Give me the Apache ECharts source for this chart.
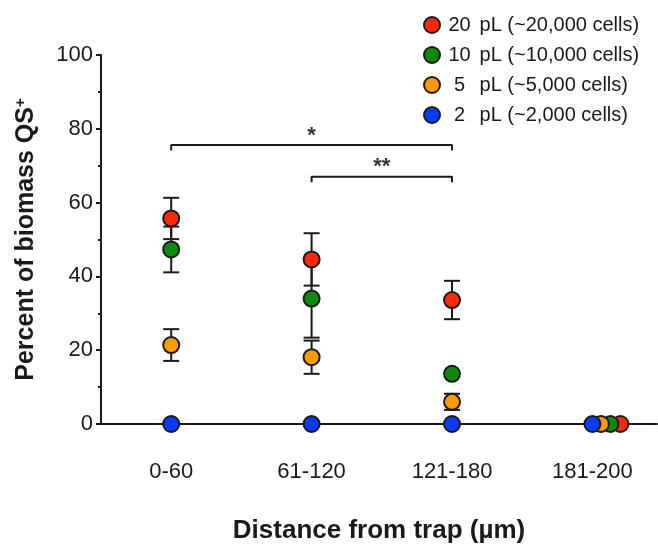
<!DOCTYPE html>
<html>
<head>
<meta charset="utf-8">
<script src="https://cdn.jsdelivr.net/npm/echarts@6/dist/echarts.min.js"></script>
<style>html,body{margin:0;padding:0;background:#fff}#c{width:658px;height:544px}</style>
</head>
<body>
<div id="c"></div>
<script>
// ---- data ----
const categories = ['0-60', '61-120', '121-180', '181-200'];
const seriesNames = ['20 pL (~20,000 cells)', '10 pL (~10,000 cells)', '5 pL (~5,000 cells)', '2 pL (~2,000 cells)'];
const mean20 = [55.7, 44.6, 33.6, 0];
const err20  = [5.6, 7.1, 5.2, 0];
const mean10 = [47.3, 34.0, 13.6, 0];
const err10  = [6.2, 10.6, 0, 0];
const mean5  = [21.4, 18.1, 6.0, 0];
const err5   = [4.3, 4.5, 2.2, 0];
const mean2  = [0, 0, 0, 0];
const err2   = [0, 0, 0, 0];
const yTickValues = [0, 20, 40, 60, 80, 100];
const bracketStarts = [0, 1];
const bracketEnds = [2, 2];
const bracketLevels = [75.6, 67.0];
const bracketTexts = ['*', '**'];

// ---- styling ----
const FONT = "'Liberation Sans', Arial, Helvetica, sans-serif";
const INK = '#1a1a1a';
const colors = ['#ff2a08', '#0c8a0c', '#ff9a00', '#0a3cff'];
const lastGroupShift = [28, 18, 8.5, 0]; // pixel offsets of overlapping markers in the last group
const means = [mean20, mean10, mean5, mean2];
const errs = [err20, err10, err5, err2];

function errRender(params, api) {
  const x = api.value(0), m = api.value(1), e = api.value(2);
  if (!e) return null;
  const t = api.coord([x, m + e]);
  const b = api.coord([x, m - e]);
  const hw = 8;
  const st = { stroke: INK, lineWidth: 2 };
  return {
    type: 'group',
    children: [
      { type: 'line', shape: { x1: t[0], y1: t[1], x2: b[0], y2: b[1] }, style: st },
      { type: 'line', shape: { x1: t[0] - hw, y1: t[1], x2: t[0] + hw, y2: t[1] }, style: st },
      { type: 'line', shape: { x1: b[0] - hw, y1: b[1], x2: b[0] + hw, y2: b[1] }, style: st }
    ]
  };
}

const series = [];
seriesNames.forEach((name, s) => {
  series.push({
    type: 'custom',
    name: 'err' + s,
    renderItem: errRender,
    encode: { x: 0, y: 1 },
    data: categories.map((c, i) => [i, means[s][i], errs[s][i]]),
    silent: true,
    z: 2
  });
  series.push({
    type: 'scatter',
    name: name,
    symbol: 'circle',
    symbolSize: 16,
    itemStyle: { color: colors[s], borderColor: INK, borderWidth: 2, opacity: 1 },
    data: categories.map((c, i) => ({
      value: [i, means[s][i]],
      symbolOffset: [i === categories.length - 1 ? lastGroupShift[s] : 0, 0]
    })),
    silent: true,
    z: 2
  });
});

bracketStarts.forEach((a, k) => {
  const b = bracketEnds[k], y = bracketLevels[k];
  series.push({
    type: 'line',
    data: [[a, y - 1.5], [a, y], [b, y], [b, y - 1.5]],
    symbol: 'none',
    lineStyle: { color: INK, width: 2 },
    silent: true,
    z: 1
  });
  series.push({
    type: 'scatter',
    data: [[(a + b) / 2, y + 2.6]],
    symbolSize: 0,
    label: { show: true, formatter: bracketTexts[k], position: 'inside', fontSize: 22, fontWeight: 'bold', color: '#000', fontFamily: FONT },
    silent: true,
    z: 1
  });
});

const chart = echarts.init(document.getElementById('c'), null, { renderer: 'canvas' });
chart.setOption({
  animation: false,
  backgroundColor: '#fff',
  textStyle: { fontFamily: FONT },
  grid: { left: 101, top: 55, width: 556, bottom: 120, containLabel: false, outerBoundsMode: 'none' },
  legend: {
    data: seriesNames,
    orient: 'vertical',
    left: 418,
    top: 10,
    itemWidth: 16,
    itemHeight: 16,
    itemGap: 10,
    icon: 'circle',
    selectedMode: false,
    formatter: function (n) {
      const i = n.indexOf(' ');
      return '{n|' + n.slice(0, i) + '}{r|' + n.slice(i) + '}';
    },
    textStyle: {
      fontSize: 20, color: INK, fontFamily: FONT, lineHeight: 20,
      rich: {
        n: { width: 29, align: 'right', fontSize: 20, color: INK, fontFamily: FONT, lineHeight: 20 },
        r: { fontSize: 20, color: INK, fontFamily: FONT, lineHeight: 20 }
      }
    }
  },
  xAxis: {
    type: 'value',
    min: -0.5,
    max: 3.46,
    interval: 0.5,
    splitLine: { show: false },
    axisTick: { show: false },
    axisLine: { show: true, onZero: true, lineStyle: { color: INK, width: 2 } },
    axisLabel: {
      fontSize: 22, color: INK, fontFamily: FONT, margin: 37,
      showMinLabel: true, showMaxLabel: true,
      formatter: function (v) {
        const r = Math.round(v);
        if (Math.abs(v - r) < 1e-6 && r >= 0 && r < categories.length) return categories[r];
        return '';
      }
    },
    name: 'Distance from trap (µm)',
    nameLocation: 'middle',
    nameGap: 94,
    nameTextStyle: { fontSize: 26, fontWeight: 'bold', color: INK, fontFamily: FONT, verticalAlign: 'top' }
  },
  yAxis: {
    type: 'value',
    min: yTickValues[0],
    max: yTickValues[yTickValues.length - 1],
    interval: yTickValues[1] - yTickValues[0],
    splitLine: { show: false },
    axisLine: { show: true, onZero: false, lineStyle: { color: INK, width: 2 } },
    axisTick: { show: true, length: 5, lineStyle: { color: INK, width: 2 } },
    minorTick: { show: true, splitNumber: 2, length: 3, lineStyle: { color: INK, width: 2 } },
    axisLabel: { fontSize: 22, color: INK, fontFamily: FONT, margin: 8 },
    name: 'Percent of biomass QS{sup|+}',
    nameLocation: 'middle',
    nameRotate: 90,
    nameGap: 61,
    nameTextStyle: {
      fontSize: 25, fontWeight: 'bold', color: INK, fontFamily: FONT,
      rich: {
        sup: { fontSize: 15, fontWeight: 'bold', color: INK, fontFamily: FONT, padding: [0, 0, 12, 0] }
      }
    }
  },
  series: series
});
</script>
</body>
</html>
